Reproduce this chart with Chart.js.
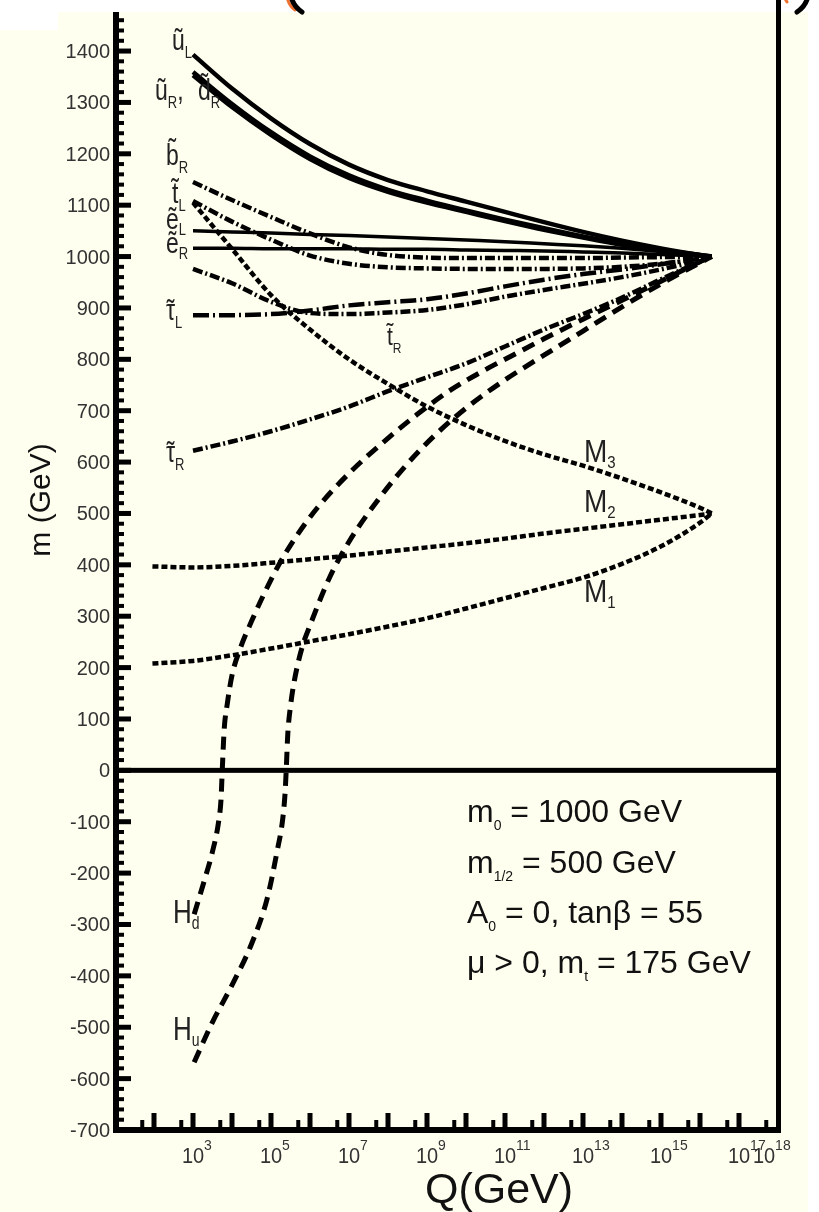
<!DOCTYPE html>
<html>
<head>
    <script src="https://cdnjs.cloudflare.com/ajax/libs/Chart.js/4.4.1/chart.umd.min.js"></script>
    <style>
        body {
            margin: 0;
            background: #fff;
        }

        .plot {
            position: relative;
            width: 819px;
            height: 1212px;
        }
    </style>
</head>
<body>
    <div class="plot">
        <canvas id="rge" width="819" height="1212"></canvas>
    </div>

    <script>
        // sample points are log10(Q / GeV)
        const qSfermion = [3, 4, 5, 6, 7, 8, 9, 10, 11, 12, 13, 14, 15, 16, 16.3];
        const uL   = [1393, 1327, 1269, 1219, 1179, 1149, 1127, 1107, 1087, 1067, 1048, 1031, 1016, 1003, 1000];
        const uR   = [1359, 1297, 1242, 1195, 1158, 1130, 1109, 1090, 1072, 1055, 1039, 1025, 1013, 1003, 1000];
        const dR   = [1353, 1291, 1237, 1190, 1153, 1126, 1105, 1087, 1069, 1052, 1037, 1023, 1012, 1002, 1000];
        const bR   = [1145, 1110, 1077, 1045, 1018, 1003, 998, 997, 997, 997, 997, 998, 999, 1000, 1000];
        const tL   = [1108, 1068, 1033, 1002, 986, 979, 977, 976, 976, 976, 977, 980, 986, 996, 1000];
        const eL   = [1050, 1048, 1046, 1043, 1041, 1038, 1035, 1032, 1029, 1025, 1021, 1016, 1010, 1003, 1000];
        const eR   = [1016, 1016, 1015, 1015, 1015, 1014, 1014, 1013, 1012, 1011, 1009, 1007, 1004, 1001, 1000];
        const tauL = [886, 886, 888, 895, 905, 911, 917, 928, 942, 955, 966, 975, 985, 996, 1000];
        const tR   = [976, 948, 912, 890, 888, 891, 896, 907, 922, 935, 947, 960, 975, 993, 1000];
        const tauR = [622, 640, 660, 683, 708, 738, 765, 792, 825, 858, 888, 920, 956, 990, 1000];
        const M3   = [1105, 1015, 925, 858, 800, 752, 708, 672, 641, 615, 593, 568, 541, 511, 500];

        const qGaugino = [1.96, 3, 4, 5, 6, 7, 8, 9, 10, 11, 12, 13, 14, 15, 16, 16.3];
        const M2 = [397, 395, 398, 404, 411, 418, 426, 434, 442, 451, 461, 470, 479, 488, 497, 500];
        const M1 = [208, 213, 224, 237, 251, 265, 280, 296, 315, 335, 355, 375, 402, 436, 482, 500];

        const qHd = [3.03, 3.3, 3.5, 3.65, 3.72, 3.75, 3.8, 3.88, 4.0, 4.2, 4.5, 4.8, 5.2, 5.6, 6.2, 7.0, 7.9, 8.75, 9.6, 10.5, 11.2, 12, 13, 14, 15, 16, 16.3];
        const Hd  = [-280, -212, -158, -103, -55, 0, 80, 130, 185, 235, 290, 340, 400, 450, 512, 578, 640, 693, 740, 780, 808, 840, 878, 915, 952, 990, 1000];

        const qHu = [3.03, 3.5, 4.0, 4.5, 4.9, 5.15, 5.3, 5.36, 5.39, 5.43, 5.5, 5.6, 5.8, 6.0, 6.5, 7.0, 7.8, 8.5, 9.2, 10.0, 11.0, 12.0, 13.0, 14.0, 15.0, 16.0, 16.3];
        const Hu  = [-568, -490, -418, -338, -250, -160, -95, -45, 0, 70, 125, 175, 240, 282, 375, 445, 532, 597, 652, 705, 760, 808, 855, 902, 947, 988, 1000];

        const yTicks = [-700, -600, -500, -400, -300, -200, -100, 0, 100, 200, 300, 400, 500, 600, 700, 800, 900, 1000, 1100, 1200, 1300, 1400];
        const xLabelPowers = [3, 5, 7, 9, 11, 13, 15, 17, 18];

        const FONT = '"Liberation Sans", Arial, sans-serif';
        const DASHDOT = [10, 3, 2, 3];
        const LONGDASHDOT = [16, 4, 2, 4];
        const SHORTDASH = [6, 3];
        const LONGDASH = [13, 8];

        function points(q, m) {
            return q.map((e, i) => ({ x: Math.pow(10, e), y: m[i] }));
        }

        function curve(label, q, m, dash, width) {
            return {
                label: label,
                data: points(q, m),
                borderColor: '#000',
                borderWidth: width || 4.5,
                borderDash: dash || [],
                borderCapStyle: 'butt',
                pointRadius: 0,
                fill: false,
                cubicInterpolationMode: 'monotone'
            };
        }

        // text with sub/superscripts: parts = [[text, kind, tildeLift], ...]
        // kind 0 normal, 1 sub, 2 sup; tildeLift (em) puts a tilde over the part
        function rich(c, parts, x, y, size, small, drop, stretch) {
            c.save();
            c.translate(x, y);
            c.scale(1, stretch || 1);
            let cx = 0;
            for (const [t, k, lift] of parts) {
                const s = k ? small : size;
                c.font = s + 'px ' + FONT;
                const dy = k === 1 ? drop : (k === 2 ? -drop : 0);
                c.fillText(t, cx, dy);
                const w = c.measureText(t).width;
                if (lift !== undefined) {
                    const tw = c.measureText('\u02DC').width;
                    c.fillText('\u02DC', cx + (w - tw) / 2, dy - lift * s);
                }
                cx += w;
            }
            c.restore();
        }

        const paper = {
            id: 'paper',
            beforeDraw(chart) {
                const c = chart.ctx;
                c.save();
                c.fillStyle = '#fff';
                c.fillRect(0, 0, chart.width, chart.height);
                c.fillStyle = '#fffff0';
                c.fillRect(58, 12, 750, 1200);
                c.fillRect(0, 30, 58, 1182);

                // bits of the cut-off heading above the frame
                c.lineCap = 'round';
                c.strokeStyle = '#f07030';
                c.lineWidth = 3;
                c.beginPath(); c.moveTo(287, -3); c.quadraticCurveTo(289, 6, 295, 10); c.stroke();
                c.beginPath(); c.moveTo(784, -3); c.lineTo(787, 2); c.stroke();
                c.strokeStyle = '#000';
                c.lineWidth = 5;
                c.beginPath(); c.moveTo(291, -4); c.quadraticCurveTo(293, 6, 302, 12); c.stroke();
                c.beginPath(); c.moveTo(808, -4); c.quadraticCurveTo(806, 6, 797, 12); c.stroke();
                c.restore();
            }
        };

        const frame = {
            id: 'frame',
            afterDatasetsDraw(chart) {
                const c = chart.ctx;
                const xs = chart.scales.x;
                const ys = chart.scales.y;
                const a = chart.chartArea;
                c.save();
                c.fillStyle = '#000';

                // zero line
                const y0 = ys.getPixelForValue(0);
                c.fillRect(a.left, y0 - 2.5, a.right - a.left, 5);

                // left axis with comb of ticks
                c.fillRect(a.left - 2, a.top, 6, a.bottom - a.top + 3);
                for (let v = -680; v < ys.max; v += 20) {
                    if (v % 100 === 0) continue;
                    const py = ys.getPixelForValue(v);
                    c.fillRect(a.left - 2, py - 2, 11, 4);
                }
                yTicks.forEach(v => {
                    const py = ys.getPixelForValue(v);
                    c.fillRect(a.left - 2, py - 2.5, 18, 5);
                });

                // bottom axis
                c.fillRect(a.left - 2, a.bottom - 3, a.right - a.left + 5, 6);
                for (let n = 1; n < 18; n++) {
                    const pm = xs.getPixelForValue(5 * Math.pow(10, n));
                    c.fillRect(pm - 2, a.bottom - 10, 4, 10);
                    if (n > 1) {
                        const pj = xs.getPixelForValue(Math.pow(10, n));
                        c.fillRect(pj - 2.5, a.bottom - 17, 5, 17);
                    }
                }

                // right border
                c.fillRect(a.right - 2, 0, 5, a.bottom + 3);

                // tick labels
                c.fillStyle = '#333';
                c.textAlign = 'right';
                c.font = '20px ' + FONT;
                yTicks.forEach(v => {
                    c.fillText(String(v), a.left - 5, ys.getPixelForValue(v) + 7);
                });
                c.textAlign = 'left';
                xLabelPowers.forEach(n => {
                    const px = Math.min(xs.getPixelForValue(Math.pow(10, n)), a.right - 14);
                    c.font = '20px ' + FONT;
                    const w = c.measureText('10').width;
                    rich(c, [['10', 0], [String(n), 2]], px - w / 2, 1163, 20, 14, 12, 1.1);
                });

                // axis titles
                c.fillStyle = '#111';
                c.font = '43px ' + FONT;
                c.textAlign = 'center';
                c.fillText('Q(GeV)', 499, 1203);
                c.save();
                c.translate(50, 500);
                c.rotate(-Math.PI / 2);
                c.font = '30px ' + FONT;
                c.fillText('m (GeV)', 0, 0);
                c.restore();

                // curve labels
                c.textAlign = 'left';
                c.fillStyle = '#222';
                const S = 1.25;
                rich(c, [['\u0169', 0], ['L', 1]], 172, 50, 23, 13, 6, S);
                rich(c, [['\u0169', 0], ['R', 1], [',', 0]], 155, 100, 23, 13, 6, S);
                rich(c, [['d', 0, 0.2], ['R', 1]], 198, 100, 23, 13, 6, S);
                rich(c, [['b', 0, 0.2], ['R', 1]], 166, 165, 23, 13, 6, S);
                rich(c, [['t', 0, 0.15], ['L', 1]], 172, 203, 23, 13, 6, S);
                rich(c, [['\u1EBD', 0], ['L', 1]], 166, 229, 23, 13, 5, S);
                rich(c, [['\u1EBD', 0], ['R', 1]], 166, 253, 23, 13, 5, S);
                rich(c, [['\u03C4', 0, 0], ['L', 1]], 166, 320, 23, 13, 6, S);
                rich(c, [['\u03C4', 0, 0], ['R', 1]], 166, 462, 23, 13, 6, S);
                rich(c, [['t', 0, 0.15], ['R', 1]], 387, 345, 21, 12, 6, S);
                rich(c, [['M', 0], ['3', 1]], 584, 462, 28, 15, 5, 1.15);
                rich(c, [['M', 0], ['2', 1]], 584, 512, 28, 15, 5, 1.15);
                rich(c, [['M', 0], ['1', 1]], 584, 602, 28, 15, 5, 1.15);
                rich(c, [['H', 0], ['d', 1]], 173, 923, 26, 14, 5, 1.25);
                rich(c, [['H', 0], ['u', 1]], 173, 1040, 26, 14, 5, 1.25);

                // model parameters
                c.fillStyle = '#111';
                rich(c, [['m', 0], ['0', 1], [' = 1000 GeV', 0]], 467, 822, 32, 14, 8);
                rich(c, [['m', 0], ['1/2', 1], [' = 500 GeV', 0]], 467, 873, 32, 14, 8);
                rich(c, [['A', 0], ['0', 1], [' = 0, tan\u03B2 = 55', 0]], 467, 923, 32, 14, 8);
                rich(c, [['\u03BC > 0, m', 0], ['t', 1], [' = 175 GeV', 0]], 467, 973, 32, 14, 8);
                c.restore();
            }
        };

        const ctx = document.getElementById('rge').getContext('2d');
        new Chart(ctx, {
            type: 'line',
            data: {
                datasets: [
                    curve('uL', qSfermion, uL, [], 4.5),
                    curve('uR', qSfermion, uR, [], 4.5),
                    curve('dR', qSfermion, dR, [], 4.5),
                    curve('eL', qSfermion, eL, [], 3.5),
                    curve('eR', qSfermion, eR, [], 3.5),
                    curve('bR', qSfermion, bR, DASHDOT),
                    curve('tL', qSfermion, tL, DASHDOT),
                    curve('tR', qSfermion, tR, DASHDOT),
                    curve('tauL', qSfermion, tauL, LONGDASHDOT),
                    curve('tauR', qSfermion, tauR, DASHDOT),
                    curve('M3', qSfermion, M3, SHORTDASH),
                    curve('M2', qGaugino, M2, SHORTDASH),
                    curve('M1', qGaugino, M1, SHORTDASH),
                    curve('Hd', qHd, Hd, LONGDASH, 5),
                    curve('Hu', qHu, Hu, LONGDASH, 5)
                ]
            },
            options: {
                responsive: false,
                animation: false,
                devicePixelRatio: 1,
                layout: {
                    padding: { left: 115, right: 41, top: 12, bottom: 82 }
                },
                plugins: {
                    legend: { display: false },
                    tooltip: { enabled: false }
                },
                scales: {
                    x: {
                        type: 'logarithmic',
                        display: false,
                        min: 10,
                        max: 1e18
                    },
                    y: {
                        type: 'linear',
                        display: false,
                        min: -700,
                        max: 1476
                    }
                }
            },
            plugins: [paper, frame]
        });
    </script>
</body>
</html>
